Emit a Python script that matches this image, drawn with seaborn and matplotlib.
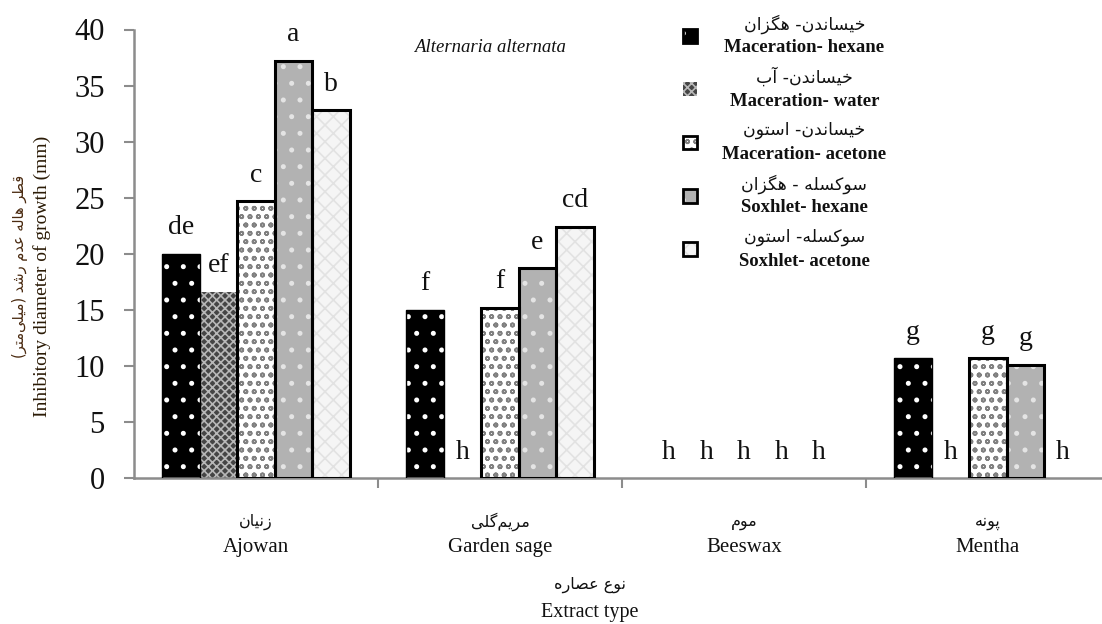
import numpy as np
import pandas as pd
import matplotlib
matplotlib.use("Agg")
import matplotlib.pyplot as plt
import matplotlib.transforms as mtransforms
from matplotlib.patches import Rectangle, Patch
import seaborn as sns

# ---------------- data ----------------
categories_en = ["Ajowan", "Garden sage", "Beeswax", "Mentha"]
categories_fa = ["زنیان", "مریم‌گلی", "موم", "پونه"]
methods_en = ["Maceration- hexane", "Maceration- water", "Maceration- acetone",
              "Soxhlet- hexane", "Soxhlet- acetone"]
methods_fa = ["خیساندن- هگزان", "خیساندن- آب", "خیساندن- استون",
              "سوکسله - هگزان", "سوکسله- استون"]

maceration_hexane = [20.0, 15.0, 0.0, 10.7]
maceration_water = [16.6, 0.0, 0.0, 0.0]
maceration_acetone = [24.7, 15.2, 0.0, 10.7]
soxhlet_hexane = [37.2, 18.7, 0.0, 10.1]
soxhlet_acetone = [32.8, 22.4, 0.0, 0.0]

letters_maceration_hexane = ["de", "f", "h", "g"]
letters_maceration_water = ["ef", "h", "h", "h"]
letters_maceration_acetone = ["c", "f", "h", "g"]
letters_soxhlet_hexane = ["a", "e", "h", "g"]
letters_soxhlet_acetone = ["b", "cd", "h", "h"]

yticks = [0, 5, 10, 15, 20, 25, 30, 35, 40]
title = "Alternaria alternata"
ylabel_en = "Inhibitory diameter of growth (mm)"
ylabel_fa = "قطر هاله عدم رشد (میلی‌متر)"
xlabel_en = "Extract type"
xlabel_fa = "نوع عصاره"

series = [maceration_hexane, maceration_water, maceration_acetone,
          soxhlet_hexane, soxhlet_acetone]
letters = [letters_maceration_hexane, letters_maceration_water,
           letters_maceration_acetone, letters_soxhlet_hexane,
           letters_soxhlet_acetone]

rows = []
for m, vals in zip(methods_en, series):
    for c, v in zip(categories_en, vals):
        rows.append({"extract": c, "method": m, "value": v})
df = pd.DataFrame(rows)

# ---------------- minimal Persian shaping (matplotlib has no complex text layout) ----
_FORMS = {  # isolated, final, initial, medial
    "\u062E": (0xFEA5, 0xFEA6, 0xFEA7, 0xFEA8),
    "\u06CC": (0xFBFC, 0xFBFD, 0xFBFE, 0xFBFF),
    "\u0633": (0xFEB1, 0xFEB2, 0xFEB3, 0xFEB4),
    "\u0627": (0xFE8D, 0xFE8E, None, None),
    "\u0646": (0xFEE5, 0xFEE6, 0xFEE7, 0xFEE8),
    "\u062F": (0xFEA9, 0xFEAA, None, None),
    "\u0647": (0xFEE9, 0xFEEA, 0xFEEB, 0xFEEC),
    "\u06AF": (0xFB92, 0xFB93, 0xFB94, 0xFB95),
    "\u0632": (0xFEAF, 0xFEB0, None, None),
    "\u0622": (0xFE81, 0xFE82, None, None),
    "\u0628": (0xFE8F, 0xFE90, 0xFE91, 0xFE92),
    "\u062A": (0xFE95, 0xFE96, 0xFE97, 0xFE98),
    "\u0648": (0xFEED, 0xFEEE, None, None),
    "\u06A9": (0xFB8E, 0xFB8F, 0xFB90, 0xFB91),
    "\u0644": (0xFEDD, 0xFEDE, 0xFEDF, 0xFEE0),
    "\u0642": (0xFED5, 0xFED6, 0xFED7, 0xFED8),
    "\u0637": (0xFEC1, 0xFEC2, 0xFEC3, 0xFEC4),
    "\u0639": (0xFEC9, 0xFECA, 0xFECB, 0xFECC),
    "\u0645": (0xFEE1, 0xFEE2, 0xFEE3, 0xFEE4),
    "\u0631": (0xFEAD, 0xFEAE, None, None),
    "\u0634": (0xFEB5, 0xFEB6, 0xFEB7, 0xFEB8),
    "\u0635": (0xFEB9, 0xFEBA, 0xFEBB, 0xFEBC),
    "\u067E": (0xFB56, 0xFB57, 0xFB58, 0xFB59),
}
_MIRROR = {"(": ")", ")": "("}


def fa(text):
    out = []
    n = len(text)
    for i, ch in enumerate(text):
        if ch == "\u200C":
            continue
        forms = _FORMS.get(ch)
        if forms is None:
            out.append(_MIRROR.get(ch, ch))
            continue
        prev = text[i - 1] if i > 0 else None
        nxt = text[i + 1] if i + 1 < n else None
        join_prev = prev in _FORMS and _FORMS[prev][2] is not None
        join_next = forms[2] is not None and nxt in _FORMS
        if join_prev and join_next:
            cp = forms[3]
        elif join_prev:
            cp = forms[1]
        elif join_next:
            cp = forms[2]
        else:
            cp = forms[0]
        out.append(chr(cp))
    return "".join(reversed(out))


# ---------------- styles ----------------
face_colors = ["#000000", "#454545", "#ffffff", "#b2b2b2", "#f5f5f5"]
hatch_colors = ["#ffffff", "#b8b8b8", "#808080", "#e4e4e4", "#e2e2e2"]
hatches = [".", "xxxx", "oo", ".", "xx"]
edge_colors = ["#000000", "#454545", "#000000", "#000000", "#000000"]
edge_widths = [1.0, 0.0, 2.2, 2.2, 2.2]

sns.set_theme(style="white")
plt.rcParams["font.family"] = ["Liberation Serif", "DejaVu Sans"]
plt.rcParams["hatch.linewidth"] = 1.2

fig = plt.figure(figsize=(11.02, 6.24), dpi=100)
W, H = 1102, 624
ax = fig.add_axes([134 / W, 1 - 478 / H, 976 / W, (478 - 29.5) / H])

sns.barplot(data=df, x="extract", y="value", hue="method",
            order=categories_en, hue_order=methods_en,
            palette=dict(zip(methods_en, face_colors)),
            width=0.768, saturation=1, errorbar=None, legend=False,
            linewidth=0, ax=ax)

for i, cont in enumerate(ax.containers):
    for bar, v, lt in zip(cont, series[i], letters[i]):
        bar.set_linewidth(0)
        if v > 0:
            hatch_rect = Rectangle(bar.get_xy(), bar.get_width(), bar.get_height(),
                                   facecolor="none", edgecolor=hatch_colors[i],
                                   hatch=hatches[i], linewidth=0, zorder=2.5)
            ax.add_patch(hatch_rect)
            if edge_widths[i] > 0:
                outline = Rectangle(bar.get_xy(), bar.get_width(), bar.get_height(),
                                    facecolor="none", edgecolor=edge_colors[i],
                                    linewidth=edge_widths[i], zorder=2.7)
                ax.add_patch(outline)
        else:
            bar.set_visible(False)
        ax.annotate(lt, (bar.get_x() + bar.get_width() / 2, v),
                    xytext=(0, 14), textcoords="offset points",
                    ha="center", va="baseline", fontsize=20,
                    family=["Liberation Serif"], color="#111111")

# axes styling
ax.set_ylim(0, 40)
ax.set_xlim(-0.5, 3.5)
ax.set_yticks(yticks)
ax.set_yticklabels([str(t) for t in yticks], fontsize=22, family=["Liberation Serif"])
ax.tick_params(axis="y", direction="out", length=7, width=1.5, color="#8c8c8c",
               pad=14, left=True, labelcolor="#111111")
ax.set_xticks(range(len(categories_en)))
ax.set_xticklabels(categories_en, fontsize=15, family=["Liberation Serif"],
                   color="#111111")
ax.set_xticks([0.5, 1.5, 2.5], minor=True)
ax.tick_params(axis="x", which="major", length=0, pad=43)
ax.tick_params(axis="x", which="minor", direction="out", length=7, width=1.5,
               color="#8c8c8c", bottom=True)
for s in ["top", "right"]:
    ax.spines[s].set_visible(False)
for s in ["left", "bottom"]:
    ax.spines[s].set_color("#8c8c8c")
    ax.spines[s].set_linewidth(1.8)
ax.set_xlabel("")
ax.set_ylabel("")
ax.grid(False)

# Persian category labels
trans = mtransforms.blended_transform_factory(ax.transData, ax.transAxes)
for i, name in enumerate(categories_fa):
    ax.text(i, -44 / 448.5, fa(name), transform=trans, ha="center", va="center",
            fontsize=11.5, family=["DejaVu Sans"], color="#111111")

# title
ax.text((490 - 134) / 976, 1 - (47 - 29.5) / 448.5, title, transform=ax.transAxes,
        ha="center", va="center", fontsize=13.5, style="italic",
        family=["Liberation Serif"], color="#111111")

# axis labels
fig.text(590 / W, 1 - 585 / H, fa(xlabel_fa), ha="center", va="center", fontsize=11.5,
         family=["DejaVu Sans"], color="#111111")
fig.text(590 / W, 1 - 612 / H, xlabel_en, ha="center", va="center", fontsize=14.5,
         family=["Liberation Serif"], color="#111111")
fig.text(20 / W, 1 - 266 / H, fa(ylabel_fa), ha="center", va="center", rotation=90,
         fontsize=10.5, family=["DejaVu Sans"], color="#4a2a10")
fig.text(42 / W, 1 - 276 / H, ylabel_en, ha="center", va="center", rotation=90,
         fontsize=14, family=["Liberation Serif"], color="#2a1a05")

# legend (handles overlay: fill + hatch + outline)
handles = []
for i in range(len(methods_en)):
    base = Patch(facecolor=face_colors[i], edgecolor="none", linewidth=0)
    hat = Patch(facecolor="none", edgecolor=hatch_colors[i], hatch=hatches[i], linewidth=0)
    if edge_widths[i] > 0:
        out = Patch(facecolor="none", edgecolor=edge_colors[i], linewidth=2)
        handles.append((base, hat, out))
    else:
        handles.append((base, hat))
leg = ax.legend(handles, [" "] * len(methods_en), loc="upper left",
                bbox_to_anchor=(683 / W, 1 - 29 / H), bbox_transform=fig.transFigure,
                frameon=False, borderpad=0, borderaxespad=0, handlelength=0.8,
                handleheight=0.8, labelspacing=2.0, fontsize=13)

fig.canvas.draw()
renderer = fig.canvas.get_renderer()
inv = fig.transFigure.inverted()
for i, h in enumerate(leg.legend_handles):
    hb = h.get_window_extent(renderer)
    cy = (hb.y0 + hb.y1) / 2
    cx = hb.x1 + 107
    xf, yf = inv.transform((cx, cy + 12))
    fig.text(xf, yf, fa(methods_fa[i]), ha="center", va="center", fontsize=12.5,
             family=["DejaVu Sans"], color="#111111")
    xf, yf = inv.transform((cx, cy - 12))
    fig.text(xf, yf, methods_en[i], ha="center", va="center", fontsize=13.5,
             weight="bold", family=["Liberation Serif"], color="#111111")

fig.savefig("out.png", dpi=100)
